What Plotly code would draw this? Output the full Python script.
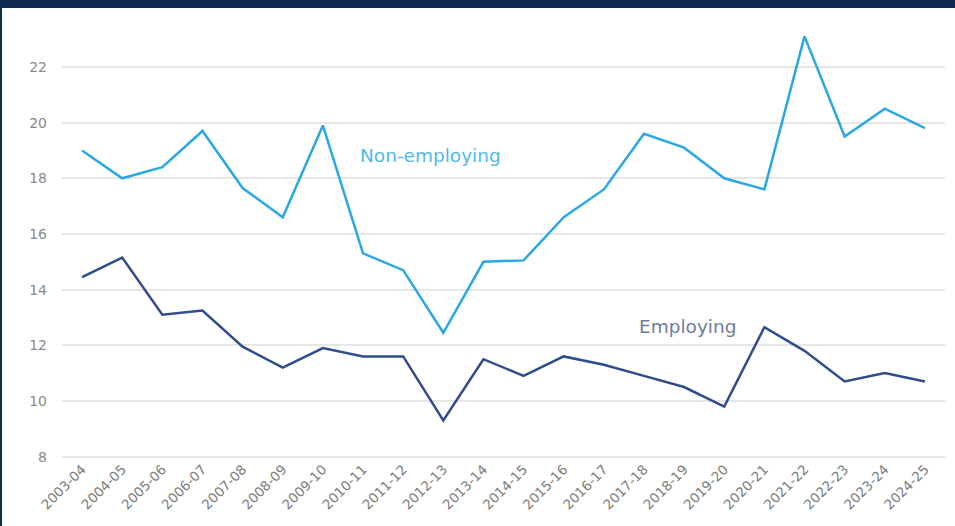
import plotly.graph_objects as go

years = ["2003-04", "2004-05", "2005-06", "2006-07", "2007-08", "2008-09",
         "2009-10", "2010-11", "2011-12", "2012-13", "2013-14", "2014-15",
         "2015-16", "2016-17", "2017-18", "2018-19", "2019-20", "2020-21",
         "2021-22", "2022-23", "2023-24", "2024-25"]

non_employing = [19.0, 18.0, 18.4, 19.7, 17.65, 16.6, 19.9, 15.3, 14.7, 12.45,
                 15.0, 15.05, 16.6, 17.6, 19.6, 19.1, 18.0, 17.6, 23.1, 19.5,
                 20.5, 19.8]

employing = [14.45, 15.15, 13.1, 13.25, 11.95, 11.2, 11.9, 11.6, 11.6, 9.3,
             11.5, 10.9, 11.6, 11.3, 10.9, 10.5, 9.8, 12.65, 11.8, 10.7,
             11.0, 10.7]

y_ticks = [8, 10, 12, 14, 16, 18, 20, 22]

LIGHT_BLUE = "#2AA8E4"
DARK_BLUE = "#2F4C8C"
NAVY = "#0F2A4E"
FONT = "DejaVu Sans"

fig = go.Figure()
fig.add_trace(go.Scatter(x=years, y=non_employing, mode="lines",
                         line=dict(color=LIGHT_BLUE, width=2.5),
                         name="Non-employing", hoverinfo="x+y"))
fig.add_trace(go.Scatter(x=years, y=employing, mode="lines",
                         line=dict(color=DARK_BLUE, width=2.5),
                         name="Employing", hoverinfo="x+y"))

# Inline series labels
fig.add_annotation(x=6.87, y=18.83, text="Non-employing", showarrow=False,
                   xanchor="left", yanchor="middle",
                   font=dict(family=FONT, size=18.5, color="#4FB9EA"))
fig.add_annotation(x=13.82, y=12.68, text="Employing", showarrow=False,
                   xanchor="left", yanchor="middle",
                   font=dict(family=FONT, size=18.5, color="#6E7DA0"))

# Navy frame: top band and thin left edge
W_PLOT = 883.0
H_PLOT = 430.0
fig.add_shape(type="rect", xref="paper", yref="paper",
              x0=-1, x1=2, y0=1 + 20 / H_PLOT, y1=2,
              fillcolor=NAVY, line=dict(width=0), layer="above")
fig.add_shape(type="rect", xref="paper", yref="paper",
              x0=-1, x1=(2 - 62) / W_PLOT, y0=-1, y1=2,
              fillcolor=NAVY, line=dict(width=0), layer="above")

fig.update_layout(
    width=955, height=526,
    margin=dict(l=62, r=10, t=28, b=68),
    paper_bgcolor="white", plot_bgcolor="white",
    showlegend=False,
    font=dict(family=FONT, color="#888888"),
    xaxis=dict(
        type="category", range=[-0.5, 21.5],
        tickangle=-45, showgrid=False, zeroline=False, showline=False,
        ticks="", tickfont=dict(size=13.5, color="#7c7c7c"),
    ),
    yaxis=dict(
        range=[7.95, 23.4], tickvals=y_ticks,
        showgrid=True, gridcolor="#e6e6e6", gridwidth=1.5,
        zeroline=False, showline=False, ticks="",
        ticklabelstandoff=14,
        tickfont=dict(size=14, color="#8a8a8a"),
    ),
)

fig.write_html("out.html")
